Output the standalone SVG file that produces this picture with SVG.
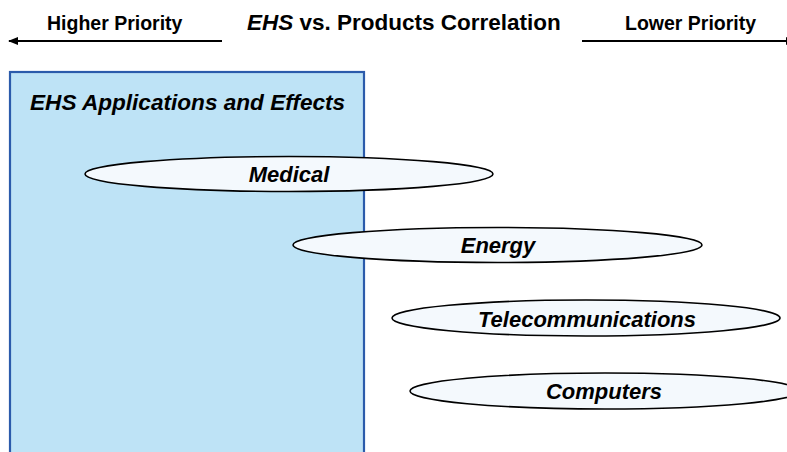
<svg xmlns="http://www.w3.org/2000/svg" width="787" height="452" viewBox="0 0 787 452">
<style>
text{font-family:"Liberation Sans",Arial,sans-serif;font-weight:bold;fill:#000}
.hdr{font-size:19.5px}
.ttl{font-size:22.5px}
.lbl{font-size:22px;font-style:italic;text-anchor:middle}
.ell{fill:#f4f9fd;stroke:#000;stroke-width:1.6}
.arr{stroke:#000;stroke-width:2;fill:none}
</style>
<defs>
<marker id="ah" viewBox="0 0 10 10" refX="9" refY="5" markerWidth="5" markerHeight="5" orient="auto-start-reverse" markerUnits="strokeWidth">
<path d="M0,1 L10,5 L0,9 z" fill="#000"/>
</marker>
</defs>
<g id="header">
<text class="hdr" x="47" y="30">Higher Priority</text>
<text class="ttl" x="247" y="30"><tspan font-style="italic">EHS</tspan> vs. Products Correlation</text>
<text class="hdr" x="625" y="30">Lower Priority</text>
</g>
<g id="connectors">
<line class="arr" x1="222" y1="41" x2="9" y2="41" marker-end="url(#ah)"/>
<line class="arr" x1="582" y1="41" x2="795" y2="41" marker-end="url(#ah)"/>
</g>
<g id="ehs-box">
<rect x="10" y="72" width="354" height="400" fill="#bee3f6" stroke="#2b5bab" stroke-width="2.2"/>
<text x="30" y="110" style="font-size:22.6px;font-style:italic">EHS Applications and Effects</text>
</g>
<g id="medical">
<ellipse class="ell" cx="289" cy="174" rx="204" ry="17.5"/>
<text class="lbl" x="289" y="182">Medical</text>
</g>
<g id="energy">
<ellipse class="ell" cx="497.5" cy="245" rx="204.5" ry="17.5"/>
<text class="lbl" x="498" y="253">Energy</text>
</g>
<g id="telecommunications">
<ellipse class="ell" cx="586" cy="318" rx="194" ry="18"/>
<text class="lbl" x="587" y="327">Telecommunications</text>
</g>
<g id="computers">
<ellipse class="ell" cx="605" cy="391" rx="195" ry="18"/>
<text class="lbl" x="604" y="399">Computers</text>
</g>
</svg>
